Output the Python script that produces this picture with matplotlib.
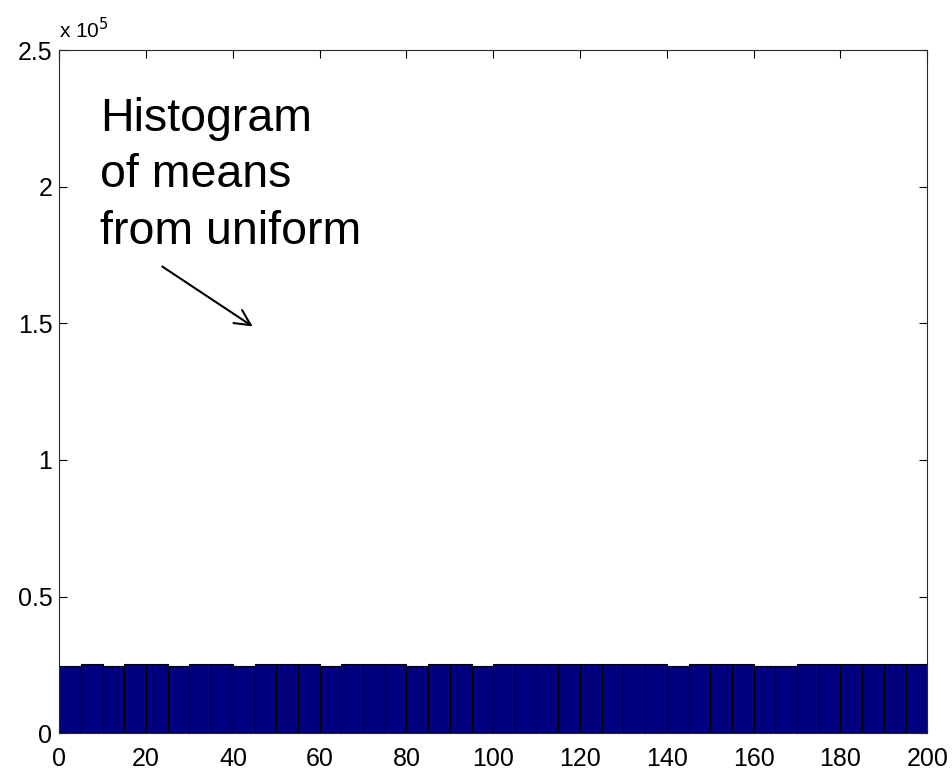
import numpy as np
import matplotlib.pyplot as plt

plt.rcParams['font.family'] = ['Liberation Sans', 'DejaVu Sans']

# histogram of means: 40 bins of width 5 from 0 to 200
bin_edges = [0, 5, 10, 15, 20, 25, 30, 35, 40, 45, 50, 55, 60, 65, 70, 75, 80, 85, 90, 95,
             100, 105, 110, 115, 120, 125, 130, 135, 140, 145, 150, 155, 160, 165, 170, 175,
             180, 185, 190, 195]
counts = [24600, 25250, 24650, 25200, 25250, 24600, 25250, 25200, 24650, 25250,
          25200, 25250, 24600, 25200, 25250, 25200, 24650, 25250, 25200, 24600,
          25250, 25200, 25250, 25200, 25200, 25250, 25200, 25250, 24650, 25200,
          25250, 25200, 24600, 24650, 25250, 25200, 25250, 25200, 25250, 25200]

x_ticks = [0, 20, 40, 60, 80, 100, 120, 140, 160, 180, 200]
y_ticks = [0, 50000, 100000, 150000, 200000, 250000]
y_tick_labels = ['0', '0.5', '1', '1.5', '2', '2.5']

fig = plt.figure(figsize=(9.53, 7.70), dpi=100)
ax = fig.add_axes([0.0622, 0.0477, 0.9108, 0.8873])

ax.bar(bin_edges, counts, width=5, align='edge', color='#000080',
       edgecolor='black', linewidth=0.8)

ax.set_xlim(0, 200)
ax.set_ylim(0, 250000)
ax.set_xticks(x_ticks)
ax.set_yticks(y_ticks)
ax.set_yticklabels(y_tick_labels)
ax.tick_params(direction='in', top=True, right=True, length=6, width=0.8,
               labelsize=18, pad=5)
ax.tick_params(axis='x', pad=10)
for s in ax.spines.values():
    s.set_linewidth(0.8)
    s.set_color('#262626')

# exponent label in MATLAB style
ax.text(0.0, 1.012, r'x 10$^{5}$', transform=ax.transAxes, fontsize=15,
        ha='left', va='bottom')

ax.text(9.4, 233000, 'Histogram\nof means\nfrom uniform', fontsize=33.5,
        ha='left', va='top', linespacing=1.38)
ax.annotate('', xy=(45.1, 148300), xytext=(23.2, 171350),
            arrowprops=dict(arrowstyle='->', color='black', lw=1.5,
                            mutation_scale=28))

plt.savefig('out.png', dpi=100)
